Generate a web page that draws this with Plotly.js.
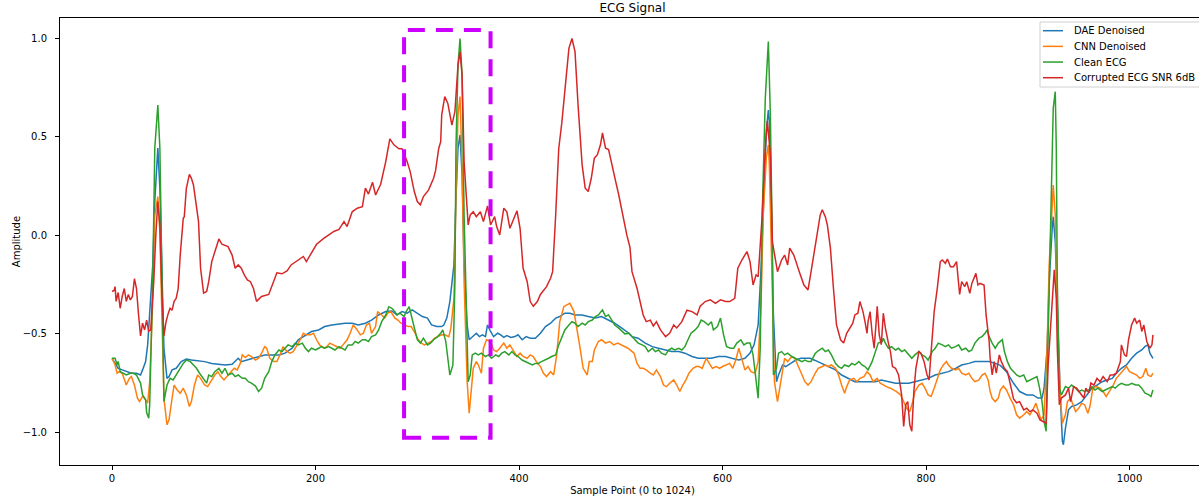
<!DOCTYPE html>
<html>
<head>
<meta charset="utf-8">
<script src="https://cdn.plot.ly/plotly-3.0.1.min.js"></script>
<style>
html,body{margin:0;padding:0;background:#fff;overflow:hidden;width:1199px;height:503px;}
#chart{width:1205px;height:503px;}
</style>
</head>
<body>
<div id="chart"></div>
<script>
// ---- Data ----
const seriesNames = ["DAE Denoised", "CNN Denoised", "Clean ECG", "Corrupted ECG SNR 6dB"];
const xTickValues = [0, 200, 400, 600, 800, 1000];
const yTickValues = [-1.0, -0.5, 0.0, 0.5, 1.0];

const daeX = [0,3,6,10,14,19,24,28,30,33,35,37,40,42,45,47,49,51,54,56,59,63,68,73,78,85,91,98,104,111,118,121,124,127,132,137,144,150,157,164,170,177,183,190,196,203,209,216,223,229,236,242,249,255,262,269,275,280,285,290,295,300,305,310,314,319,324,326,329,332,336,338,340,342,344,346,349,351,354,358,361,364,367,369,372,375,379,382,385,388,392,396,399,403,407,411,416,421,426,431,436,440,445,450,455,462,468,475,481,488,494,501,508,511,517,524,531,537,544,550,557,563,570,576,583,589,596,603,609,616,622,627,631,635,638,641,643,645,646,648,650,653,655,659,662,667,672,677,682,686,691,697,704,711,717,724,730,737,743,750,756,763,770,776,783,789,796,802,809,816,822,829,835,842,848,855,862,868,873,879,886,892,899,905,910,914,916,919,921,924,925,927,929,932,934,935,937,940,943,948,953,958,963,968,973,978,983,987,992,997,1002,1007,1012,1015,1018,1020,1023];
const daeY = [-0.624,-0.65,-0.675,-0.683,-0.692,-0.70,-0.70,-0.709,-0.683,-0.641,-0.556,-0.404,-0.15,0.172,0.443,0.24,-0.235,-0.573,-0.726,-0.717,-0.683,-0.675,-0.641,-0.628,-0.633,-0.637,-0.641,-0.65,-0.654,-0.658,-0.654,-0.641,-0.624,-0.641,-0.633,-0.624,-0.615,-0.607,-0.607,-0.607,-0.598,-0.573,-0.53,-0.505,-0.488,-0.48,-0.463,-0.455,-0.45,-0.446,-0.446,-0.455,-0.446,-0.43,-0.404,-0.387,-0.384,-0.404,-0.387,-0.395,-0.378,-0.395,-0.412,-0.42,-0.455,-0.463,-0.463,-0.455,-0.42,-0.336,-0.15,0.189,0.443,0.51,0.307,-0.15,-0.455,-0.53,-0.514,-0.497,-0.514,-0.505,-0.514,-0.455,-0.488,-0.514,-0.497,-0.505,-0.518,-0.509,-0.518,-0.514,-0.505,-0.53,-0.514,-0.522,-0.522,-0.497,-0.463,-0.446,-0.42,-0.412,-0.395,-0.395,-0.404,-0.404,-0.412,-0.42,-0.412,-0.43,-0.446,-0.471,-0.497,-0.514,-0.522,-0.547,-0.565,-0.573,-0.582,-0.59,-0.59,-0.598,-0.615,-0.624,-0.624,-0.624,-0.615,-0.615,-0.624,-0.633,-0.624,-0.598,-0.556,-0.455,-0.15,0.273,0.527,0.637,0.578,0.104,-0.404,-0.743,-0.709,-0.658,-0.666,-0.65,-0.633,-0.624,-0.624,-0.624,-0.635,-0.65,-0.666,-0.683,-0.709,-0.726,-0.743,-0.743,-0.743,-0.743,-0.734,-0.743,-0.751,-0.751,-0.751,-0.743,-0.734,-0.726,-0.709,-0.70,-0.692,-0.675,-0.658,-0.65,-0.641,-0.641,-0.641,-0.65,-0.66,-0.692,-0.751,-0.793,-0.81,-0.81,-0.826,-0.826,-0.776,-0.573,-0.235,0.036,0.095,-0.032,-0.404,-0.826,-1.046,-1.063,-0.979,-0.886,-0.869,-0.861,-0.844,-0.81,-0.776,-0.76,-0.743,-0.734,-0.726,-0.70,-0.675,-0.658,-0.624,-0.598,-0.582,-0.565,-0.556,-0.598,-0.624];

const cnnX = [0,3,5,7,10,12,14,17,19,22,25,27,30,32,35,37,40,42,45,47,49,51,54,56,59,61,64,67,70,73,76,78,81,84,87,91,94,97,101,104,107,110,114,117,120,123,126,128,131,134,137,141,144,147,150,152,155,159,162,165,168,172,175,178,182,185,188,191,195,198,201,204,208,211,214,218,221,224,227,231,234,237,241,244,247,250,253,255,259,261,265,268,271,274,278,281,284,288,291,294,297,301,304,307,311,314,317,320,324,327,331,333,336,338,340,342,344,346,349,351,353,355,358,360,363,365,368,372,375,378,381,385,388,391,395,398,401,404,408,411,414,417,421,424,427,431,434,437,440,444,447,450,454,457,460,463,467,469,472,474,478,481,485,489,493,497,501,504,507,510,513,516,519,522,525,529,532,535,539,542,545,548,552,555,558,561,564,567,571,574,577,580,584,587,590,594,597,600,603,607,610,613,616,619,622,625,628,632,635,638,640,643,645,646,649,651,654,656,659,661,664,668,671,674,678,681,684,687,691,694,698,701,704,707,711,714,717,720,722,725,729,732,735,739,742,745,748,752,755,758,761,765,768,771,775,778,781,784,787,789,793,796,799,802,805,808,811,814,817,820,822,825,829,832,835,839,842,845,848,852,855,858,861,863,865,868,871,873,876,879,883,886,889,892,896,899,902,905,908,911,913,916,919,921,924,925,927,929,932,934,937,939,942,944,947,950,953,956,959,961,964,967,971,974,977,980,984,987,990,993,997,1000,1003,1007,1010,1013,1016,1018,1021,1023];
const cnnY = [-0.624,-0.658,-0.70,-0.692,-0.70,-0.726,-0.76,-0.726,-0.717,-0.76,-0.827,-0.844,-0.818,-0.827,-0.852,-0.743,-0.32,0.104,0.197,0.019,-0.404,-0.827,-0.962,-0.937,-0.827,-0.76,-0.785,-0.802,-0.776,-0.81,-0.869,-0.844,-0.76,-0.709,-0.726,-0.76,-0.768,-0.743,-0.709,-0.692,-0.717,-0.734,-0.709,-0.692,-0.675,-0.683,-0.65,-0.607,-0.62,-0.607,-0.615,-0.633,-0.624,-0.598,-0.565,-0.573,-0.624,-0.641,-0.641,-0.607,-0.565,-0.59,-0.598,-0.59,-0.556,-0.53,-0.497,-0.505,-0.505,-0.497,-0.53,-0.556,-0.573,-0.565,-0.547,-0.556,-0.565,-0.573,-0.556,-0.53,-0.497,-0.455,-0.48,-0.505,-0.497,-0.455,-0.446,-0.497,-0.463,-0.387,-0.404,-0.42,-0.395,-0.387,-0.42,-0.43,-0.446,-0.455,-0.463,-0.463,-0.488,-0.53,-0.547,-0.556,-0.547,-0.539,-0.522,-0.514,-0.505,-0.505,-0.514,-0.471,-0.32,0.189,0.612,0.705,0.358,-0.235,-0.743,-0.903,-0.793,-0.675,-0.641,-0.658,-0.70,-0.573,-0.53,-0.539,-0.582,-0.59,-0.573,-0.547,-0.573,-0.556,-0.59,-0.615,-0.598,-0.615,-0.624,-0.607,-0.615,-0.641,-0.666,-0.70,-0.717,-0.692,-0.709,-0.607,-0.438,-0.362,-0.353,-0.345,-0.387,-0.471,-0.573,-0.675,-0.709,-0.641,-0.641,-0.582,-0.539,-0.53,-0.547,-0.539,-0.556,-0.547,-0.556,-0.565,-0.573,-0.585,-0.598,-0.65,-0.675,-0.675,-0.683,-0.70,-0.709,-0.683,-0.717,-0.76,-0.768,-0.751,-0.734,-0.76,-0.793,-0.76,-0.734,-0.70,-0.675,-0.666,-0.666,-0.675,-0.624,-0.65,-0.675,-0.666,-0.675,-0.666,-0.658,-0.65,-0.675,-0.633,-0.573,-0.624,-0.683,-0.666,-0.692,-0.70,-0.641,-0.32,0.104,0.392,0.46,0.358,-0.235,-0.743,-0.844,-0.776,-0.675,-0.624,-0.641,-0.615,-0.624,-0.658,-0.709,-0.743,-0.76,-0.743,-0.70,-0.675,-0.666,-0.658,-0.666,-0.658,-0.675,-0.709,-0.76,-0.802,-0.768,-0.734,-0.726,-0.743,-0.726,-0.717,-0.692,-0.709,-0.743,-0.726,-0.751,-0.76,-0.768,-0.776,-0.785,-0.793,-0.81,-0.844,-0.878,-0.895,-0.844,-0.793,-0.76,-0.751,-0.776,-0.81,-0.818,-0.776,-0.726,-0.683,-0.658,-0.641,-0.658,-0.675,-0.683,-0.675,-0.70,-0.709,-0.70,-0.726,-0.743,-0.734,-0.709,-0.70,-0.734,-0.793,-0.827,-0.844,-0.827,-0.785,-0.765,-0.785,-0.83,-0.86,-0.911,-0.928,-0.911,-0.895,-0.911,-0.886,-0.852,-0.911,-0.937,-0.911,-0.573,-0.15,0.172,0.256,0.104,-0.404,-0.827,-0.954,-0.911,-0.844,-0.827,-0.852,-0.895,-0.878,-0.852,-0.861,-0.903,-0.869,-0.776,-0.768,-0.776,-0.793,-0.818,-0.793,-0.76,-0.726,-0.709,-0.692,-0.666,-0.692,-0.70,-0.709,-0.726,-0.717,-0.675,-0.709,-0.717,-0.70];

const cleanX = [0,3,5,6,8,11,14,18,21,24,28,30,33,34,36,37,40,42,45,47,49,51,54,57,60,63,67,70,73,77,80,83,86,90,93,95,98,101,105,108,111,114,118,121,124,128,131,134,137,141,144,147,150,154,157,160,164,167,170,173,177,180,183,187,190,193,196,200,203,206,209,213,216,219,223,226,229,232,236,239,242,246,249,252,255,259,262,265,269,272,275,278,280,283,287,289,292,294,297,300,303,306,310,313,316,320,323,325,328,330,332,335,337,338,340,342,344,346,348,350,352,354,357,360,363,367,370,373,377,380,383,386,390,393,396,399,403,406,409,413,416,419,422,426,429,432,436,439,442,445,449,452,455,458,462,465,468,472,475,478,482,485,488,491,494,498,501,504,508,511,514,517,521,524,527,531,534,537,540,544,547,550,553,557,560,563,566,569,573,576,579,582,586,589,591,595,598,601,604,608,611,614,618,621,624,627,630,632,635,637,639,642,645,647,649,650,653,655,658,661,664,668,671,674,678,681,684,687,691,694,698,701,704,707,711,714,717,720,724,727,730,734,737,740,743,747,750,753,757,758,760,763,766,770,773,776,779,783,786,789,793,796,799,802,806,809,812,816,819,822,825,829,832,835,839,842,845,848,852,855,858,860,862,865,868,871,875,877,880,883,886,889,892,896,899,902,905,909,911,914,916,918,919,921,924,925,927,928,929,931,933,937,940,943,947,950,953,956,960,963,966,969,973,976,979,983,986,989,992,996,999,1002,1006,1009,1012,1015,1019,1021,1023];
const cleanY = [-0.624,-0.624,-0.658,-0.64,-0.692,-0.70,-0.709,-0.70,-0.70,-0.709,-0.75,-0.81,-0.835,-0.90,-0.928,-0.86,-0.235,0.443,0.662,0.443,-0.235,-0.844,-0.76,-0.726,-0.734,-0.709,-0.675,-0.65,-0.633,-0.641,-0.658,-0.675,-0.70,-0.726,-0.75,-0.709,-0.717,-0.692,-0.675,-0.70,-0.675,-0.709,-0.70,-0.717,-0.709,-0.726,-0.726,-0.743,-0.75,-0.765,-0.793,-0.776,-0.726,-0.692,-0.641,-0.607,-0.582,-0.59,-0.573,-0.556,-0.565,-0.547,-0.556,-0.547,-0.573,-0.59,-0.573,-0.582,-0.573,-0.565,-0.573,-0.565,-0.573,-0.582,-0.565,-0.573,-0.582,-0.556,-0.556,-0.539,-0.547,-0.53,-0.53,-0.539,-0.514,-0.505,-0.48,-0.438,-0.404,-0.362,-0.37,-0.387,-0.404,-0.395,-0.412,-0.387,-0.362,-0.404,-0.471,-0.53,-0.547,-0.522,-0.556,-0.547,-0.53,-0.514,-0.497,-0.48,-0.539,-0.624,-0.709,-0.658,-0.235,0.443,0.865,1.0,0.815,0.104,-0.404,-0.743,-0.709,-0.607,-0.598,-0.607,-0.598,-0.615,-0.607,-0.624,-0.607,-0.615,-0.598,-0.59,-0.607,-0.59,-0.607,-0.615,-0.633,-0.641,-0.65,-0.658,-0.65,-0.65,-0.641,-0.633,-0.624,-0.615,-0.607,-0.556,-0.514,-0.48,-0.455,-0.438,-0.446,-0.463,-0.446,-0.455,-0.438,-0.43,-0.412,-0.404,-0.378,-0.412,-0.404,-0.43,-0.455,-0.471,-0.488,-0.5,-0.497,-0.514,-0.53,-0.547,-0.556,-0.565,-0.59,-0.573,-0.59,-0.582,-0.598,-0.607,-0.582,-0.573,-0.582,-0.573,-0.582,-0.565,-0.53,-0.497,-0.48,-0.463,-0.43,-0.438,-0.455,-0.438,-0.48,-0.463,-0.42,-0.505,-0.565,-0.573,-0.573,-0.547,-0.53,-0.556,-0.547,-0.547,-0.607,-0.709,-0.827,-0.573,0.104,0.696,0.984,0.612,-0.065,-0.709,-0.675,-0.598,-0.59,-0.607,-0.598,-0.615,-0.624,-0.633,-0.641,-0.633,-0.641,-0.641,-0.6,-0.586,-0.573,-0.59,-0.582,-0.607,-0.65,-0.666,-0.675,-0.658,-0.666,-0.65,-0.658,-0.641,-0.658,-0.666,-0.683,-0.641,-0.59,-0.547,-0.539,-0.522,-0.547,-0.573,-0.565,-0.582,-0.573,-0.59,-0.582,-0.607,-0.624,-0.607,-0.59,-0.607,-0.615,-0.633,-0.59,-0.573,-0.547,-0.556,-0.565,-0.556,-0.573,-0.565,-0.556,-0.582,-0.573,-0.59,-0.582,-0.547,-0.522,-0.514,-0.497,-0.48,-0.514,-0.547,-0.573,-0.547,-0.53,-0.59,-0.641,-0.675,-0.692,-0.709,-0.717,-0.709,-0.743,-0.734,-0.726,-0.717,-0.76,-0.844,-0.945,-0.995,-0.743,-0.235,0.358,0.646,0.73,0.443,-0.235,-0.776,-0.81,-0.768,-0.776,-0.76,-0.776,-0.793,-0.785,-0.793,-0.785,-0.768,-0.785,-0.776,-0.793,-0.785,-0.776,-0.768,-0.776,-0.76,-0.751,-0.76,-0.76,-0.751,-0.76,-0.76,-0.776,-0.80,-0.81,-0.818,-0.785];

const noisyX = [0,2,3,4,6,8,10,12,14,16,18,20,22,24,26,28,30,32,34,36,38,41,43,45,47,49,51,53,55,57,59,61,63,65,67,70,71,73,76,78,80,83,85,87,90,93,95,98,101,105,108,114,118,121,124,127,130,133,136,139,142,147,154,157,162,167,172,176,181,188,191,196,201,208,213,218,223,228,231,236,241,246,249,252,256,259,264,269,273,277,282,285,290,293,297,300,303,306,311,316,318,320,321,323,324,327,330,334,337,340,342,344,346,350,352,355,358,362,365,369,372,376,378,381,385,388,391,395,398,401,404,408,411,414,418,421,424,427,431,433,436,439,442,445,449,452,455,458,462,465,468,471,474,477,480,482,485,488,491,495,498,503,506,509,511,516,519,522,525,529,532,535,539,544,548,552,555,560,565,570,575,578,583,588,593,598,603,607,612,615,619,624,627,630,633,635,639,642,644,647,649,651,654,658,661,664,666,670,673,676,680,684,687,690,694,696,698,701,703,706,709,712,716,719,722,725,728,730,733,735,738,740,742,743,745,747,749,751,752,754,756,758,760,763,765,767,770,773,776,778,780,782,784,786,788,790,793,795,798,801,803,805,808,811,814,816,819,821,824,827,830,833,835,838,840,843,845,849,851,853,857,859,862,863,865,867,869,872,874,877,880,883,886,889,892,896,899,902,905,909,912,915,918,920,923,925,926,928,929,931,933,937,940,942,945,948,951,955,957,960,962,965,968,971,974,978,981,984,987,991,992,995,997,999,1002,1005,1007,1010,1012,1014,1017,1020,1022,1023];
const noisyY = [-0.285,-0.28,-0.26,-0.335,-0.29,-0.37,-0.31,-0.27,-0.335,-0.30,-0.328,-0.31,-0.22,-0.27,-0.40,-0.51,-0.446,-0.48,-0.43,-0.487,-0.48,-0.235,0.0,0.172,0.05,-0.3,-0.51,-0.44,-0.40,-0.37,-0.38,-0.335,-0.32,-0.27,-0.10,0.087,0.095,0.238,0.31,0.29,0.256,0.138,0.07,-0.167,-0.293,-0.285,-0.235,-0.133,-0.082,-0.018,-0.045,-0.057,-0.10,-0.167,-0.15,-0.167,-0.2,-0.226,-0.235,-0.27,-0.335,-0.31,-0.30,-0.26,-0.19,-0.195,-0.18,-0.15,-0.133,-0.107,-0.133,-0.09,-0.045,-0.015,0.002,0.02,0.03,0.07,0.045,0.12,0.138,0.146,0.24,0.21,0.27,0.205,0.26,0.375,0.49,0.46,0.44,0.44,0.375,0.324,0.224,0.172,0.155,0.197,0.23,0.29,0.33,0.39,0.44,0.476,0.612,0.705,0.67,0.56,0.63,0.865,0.933,0.815,0.375,0.053,0.104,0.12,0.095,0.12,0.07,0.15,0.053,0.095,0.045,0.002,0.138,0.12,0.036,0.087,0.125,0.036,-0.167,-0.235,-0.336,-0.36,-0.336,-0.30,-0.277,-0.26,-0.218,-0.184,0.104,0.44,0.57,0.747,0.95,1.0,0.933,0.662,0.358,0.24,0.223,0.29,0.392,0.41,0.46,0.52,0.443,0.436,0.358,0.273,0.205,0.07,0.0,-0.06,-0.184,-0.27,-0.336,-0.404,-0.438,-0.43,-0.46,-0.438,-0.48,-0.514,-0.497,-0.455,-0.47,-0.438,-0.38,-0.387,-0.404,-0.36,-0.336,-0.327,-0.345,-0.327,-0.336,-0.336,-0.32,-0.167,-0.125,-0.082,-0.133,-0.252,-0.2,-0.21,0.104,0.443,0.58,0.41,-0.033,-0.1,-0.184,-0.125,-0.10,-0.15,-0.065,-0.10,-0.142,-0.193,-0.252,-0.277,-0.184,-0.08,0.053,0.104,0.13,0.095,0.053,-0.065,-0.27,-0.455,-0.53,-0.547,-0.497,-0.47,-0.446,-0.404,-0.395,-0.336,-0.387,-0.438,-0.497,-0.438,-0.387,-0.497,-0.573,-0.438,-0.36,-0.505,-0.555,-0.395,-0.47,-0.547,-0.59,-0.666,-0.675,-0.709,-0.81,-0.97,-0.86,-0.844,-0.962,-0.995,-0.793,-0.675,-0.59,-0.598,-0.64,-0.709,-0.734,-0.59,-0.387,-0.27,-0.133,-0.125,-0.142,-0.12,-0.159,-0.159,-0.133,-0.30,-0.235,-0.26,-0.235,-0.294,-0.244,-0.193,-0.252,-0.244,-0.252,-0.404,-0.539,-0.624,-0.709,-0.641,-0.70,-0.607,-0.641,-0.675,-0.692,-0.76,-0.83,-0.85,-0.844,-0.886,-0.878,-0.895,-0.886,-0.903,-0.937,-0.945,-0.954,-0.658,-0.404,-0.235,-0.175,-0.32,-0.573,-0.86,-0.826,-0.81,-0.776,-0.844,-0.768,-0.776,-0.80,-0.826,-0.776,-0.80,-0.75,-0.76,-0.726,-0.743,-0.717,-0.743,-0.709,-0.709,-0.70,-0.641,-0.556,-0.607,-0.615,-0.53,-0.455,-0.42,-0.446,-0.43,-0.488,-0.455,-0.54,-0.573,-0.556,-0.505];

// highlighted region (purple dashed box), in data units
const boxSampleRange = [287, 372];
const boxAmplitudeRange = [-1.028, 1.043];

// ---- Drawing ----
const colors = ["#1f77b4", "#ff7f0e", "#2ca02c", "#d62728"];
const xs = [daeX, cnnX, cleanX, noisyX];
const ys = [daeY, cnnY, cleanY, noisyY];
const traces = seriesNames.map((n, i) => ({
  type: "scatter", mode: "lines", name: n, x: xs[i], y: ys[i],
  line: {color: colors[i], width: 1.5}, hoverinfo: "skip", showlegend: false
}));

// plot-area geometry in pixels (used to place a matplotlib-style legend)
const plotL = 60, plotW = 1145, plotT = 18, plotH = 447;
const px2x = p => (p - plotL) / plotW;
const py2y = p => (plotT + plotH - p) / plotH;

const shapes = [{type: "rect", xref: "x", yref: "y",
  x0: boxSampleRange[0], x1: boxSampleRange[1], y0: boxAmplitudeRange[0], y1: boxAmplitudeRange[1],
  line: {color: "#cc00ff", width: 4, dash: "17px,11px"}, fillcolor: "rgba(0,0,0,0)", layer: "above"}];
const annotations = [];
// legend box
shapes.push({type: "rect", xref: "paper", yref: "paper",
  x0: px2x(1040), x1: px2x(1201), y0: py2y(87), y1: py2y(22),
  line: {color: "#d0d0d0", width: 1}, fillcolor: "rgba(255,255,255,0.8)", layer: "above"});
seriesNames.forEach((n, i) => {
  const cy = 30.7 + i * 15.67;
  shapes.push({type: "line", xref: "paper", yref: "paper",
    x0: px2x(1043), x1: px2x(1063), y0: py2y(cy), y1: py2y(cy),
    line: {color: colors[i], width: 1.5}, layer: "above"});
  annotations.push({xref: "paper", yref: "paper", x: px2x(1072), y: py2y(cy),
    xanchor: "left", yanchor: "middle", showarrow: false, text: n,
    font: {family: "DejaVu Sans, sans-serif", size: 10, color: "#000"}});
});

const axisFont = {family: "DejaVu Sans, sans-serif", size: 10, color: "#000"};
const layout = {
  width: 1205, height: 503,
  margin: {l: 60, r: 0, t: 18, b: 38, pad: 0},
  paper_bgcolor: "#fff", plot_bgcolor: "#fff",
  font: {family: "DejaVu Sans, sans-serif", size: 10, color: "#000"},
  title: {text: "ECG Signal", font: {family: "DejaVu Sans, sans-serif", size: 12, color: "#000"},
          x: 0.5, xref: "paper", xanchor: "center", y: 1, yref: "paper", yanchor: "bottom", pad: {b: 6}},
  showlegend: false,
  xaxis: {range: [-51.15, 1074.15], tickvals: xTickValues, ticks: "outside", ticklen: 4, tickwidth: 1,
          tickcolor: "#000", showline: true, mirror: true, linecolor: "#000", linewidth: 1,
          showgrid: false, zeroline: false, tickfont: axisFont,
          title: {text: "Sample Point (0 to 1024)", font: axisFont, standoff: 3}},
  yaxis: {range: [-1.166, 1.104], tickvals: yTickValues, tickformat: ".1f", ticks: "outside", ticklen: 4, tickwidth: 1,
          tickcolor: "#000", showline: true, mirror: true, linecolor: "#000", linewidth: 1,
          showgrid: false, zeroline: false, tickfont: axisFont, ticklabelstandoff: 6,
          title: {text: "Amplitude", font: axisFont, standoff: 0}},
  shapes: shapes,
  annotations: annotations
};

Plotly.newPlot("chart", traces, layout, {staticPlot: true, displayModeBar: false});
</script>
</body>
</html>
